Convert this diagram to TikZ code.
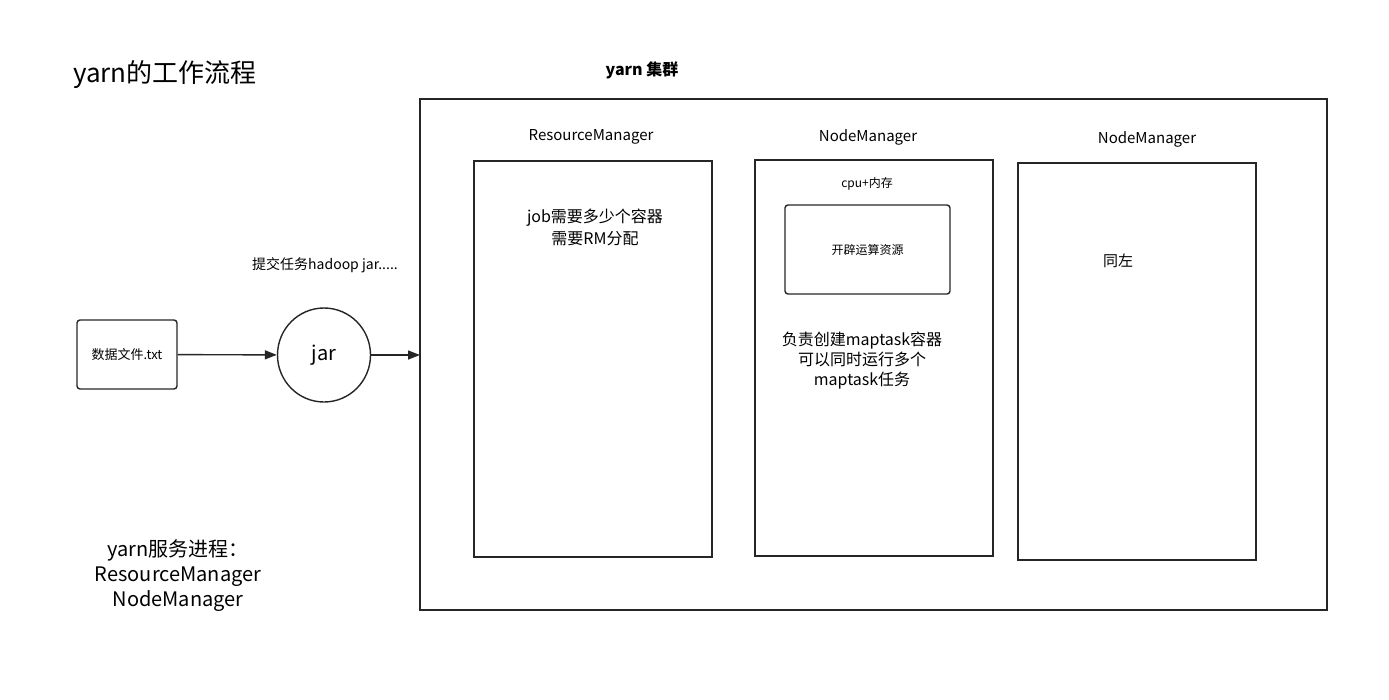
\documentclass[tikz,border=0pt]{standalone}
\usepackage{fontspec}
\setmainfont{Noto Sans CJK SC}
\usetikzlibrary{arrows.meta,shapes.geometric}
\begin{document}
\begin{tikzpicture}[x=1pt,y=-1pt,
  frame/.style={draw=black!85,line width=1.4pt},
  rbox/.style={draw=black!85,line width=1.4pt,rounded corners=3pt},
  lbl/.style={inner sep=0pt,align=center},
  conn/.style={draw=black!85,line width=1.4pt,-{Triangle[length=12pt,width=9pt]}}]
\useasboundingbox (0,0) rectangle (1389,699);
\node[lbl,font=\fontsize{26}{30}\selectfont] (title) at (165,75) {yarn的工作流程};
\node[lbl,font=\bfseries\fontsize{16}{20}\selectfont] (ctitle) at (642,70) {yarn 集群};
\draw[frame] (420,99) rectangle (1327,610);
\coordinate (cl) at (420,355);
\node[frame,minimum width=238pt,minimum height=396pt,inner sep=0pt] (rm) at (593,359) {};
\node[frame,minimum width=238pt,minimum height=396pt,inner sep=0pt] (nm1) at (874,358) {};
\node[frame,minimum width=238pt,minimum height=397pt,inner sep=0pt] (nm2) at (1137,361.5) {};
\node[lbl,font=\fontsize{15}{18}\selectfont] (rml) at (591,137) {ResourceManager};
\node[lbl,font=\fontsize{15}{18}\selectfont] (nml1) at (868,137) {NodeManager};
\node[lbl,font=\fontsize{15}{18}\selectfont] (nml2) at (1147,139) {NodeManager};
\node[lbl,font=\fontsize{16}{22}\selectfont] (rmt) at (595,227) {job需要多少个容器\\需要RM分配};
\node[lbl,font=\fontsize{12}{15}\selectfont] (cpu) at (867,184) {cpu+内存};
\node[rbox,minimum width=165pt,minimum height=89pt,inner sep=0pt,font=\fontsize{12}{15}\selectfont] (res) at (867.5,249.5) {开辟运算资源};
\node[lbl,font=\fontsize{16}{20}\selectfont] (nmt) at (862,361) {负责创建maptask容器\\可以同时运行多个\\maptask任务};
\node[lbl,font=\fontsize{15}{18}\selectfont] (same) at (1118,261) {同左};
\node[lbl,font=\fontsize{14}{18}\selectfont] (submit) at (325,265) {提交任务hadoop jar.....};
\node[rbox,minimum width=100pt,minimum height=69pt,inner sep=0pt,font=\fontsize{13}{16}\selectfont] (file) at (127,354.5) {数据文件.txt};
\node[draw=black!85,line width=1.4pt,ellipse,minimum width=93pt,minimum height=94pt,inner sep=0pt,font=\fontsize{20}{24}\selectfont] (jar) at (324,355) {jar};
\draw[conn] (file) -- (jar);
\draw[conn] (jar) -- (cl);
\node[lbl,font=\fontsize{20}{25}\selectfont] (svc) at (178,576) {yarn服务进程：\\ResourceManager\\NodeManager};
\end{tikzpicture}
\end{document}
